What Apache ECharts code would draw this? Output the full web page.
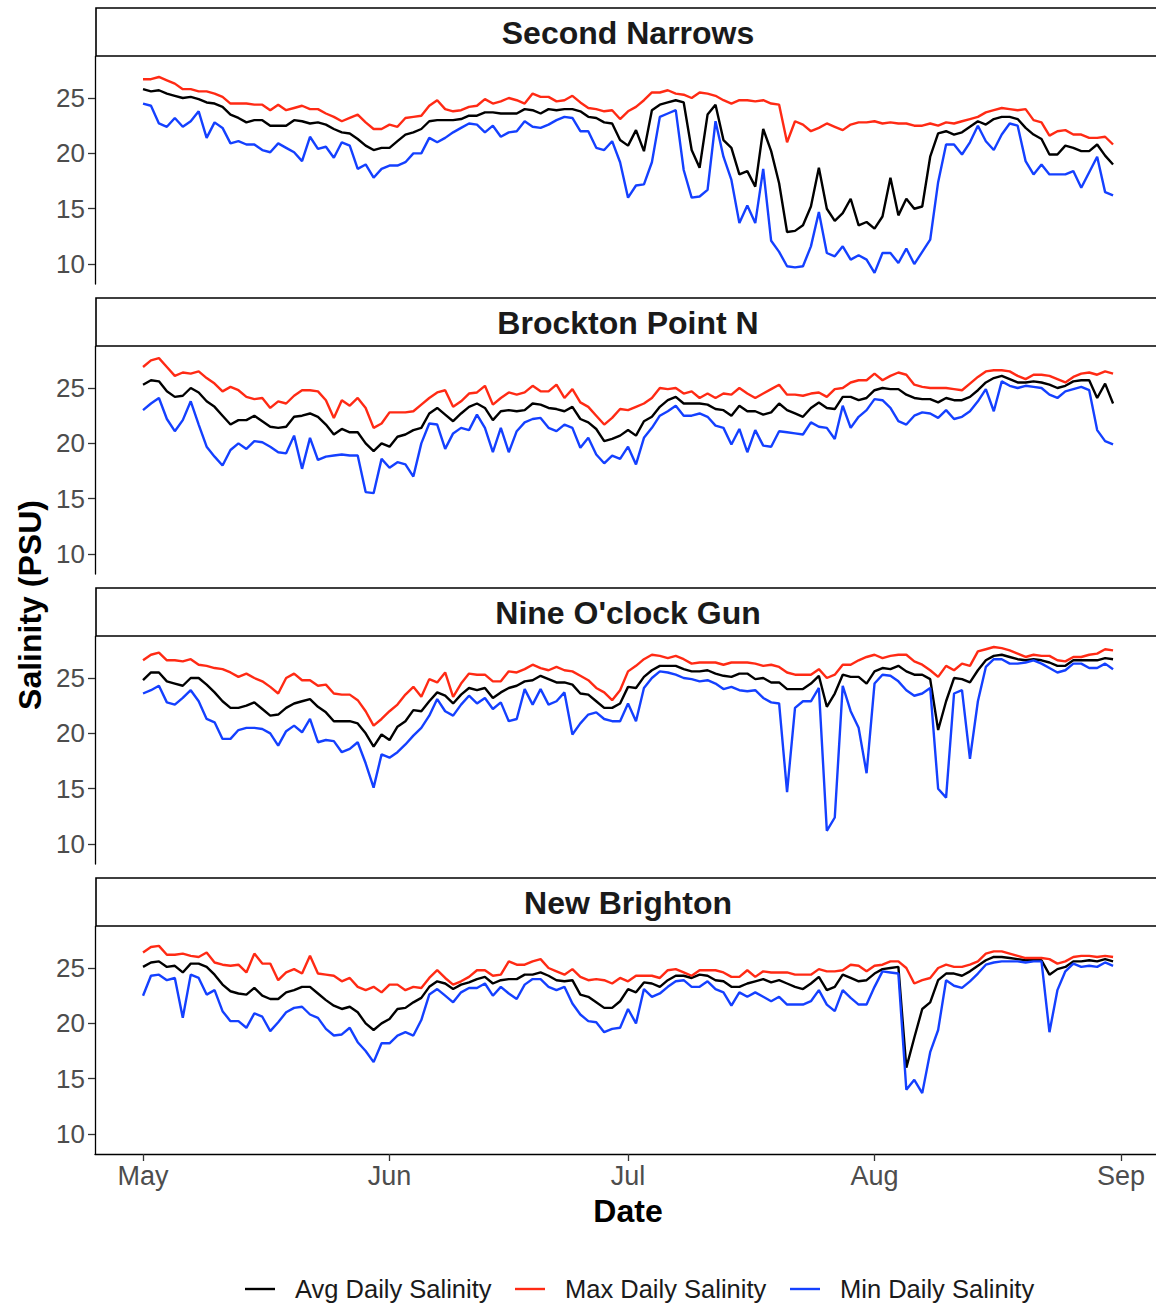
<!DOCTYPE html>
<html><head><meta charset="utf-8">
<script src="https://cdn.jsdelivr.net/npm/echarts@6/dist/echarts.min.js"></script>
<style>html,body{margin:0;padding:0;background:#fff}#c{width:1156px;height:1304px}</style>
</head><body><div id="c"></div>
<script>
// Categories / labels
const sites = ['Second Narrows', 'Brockton Point N', "Nine O'clock Gun", 'New Brighton'];
const seriesNames = ['Avg Daily Salinity', 'Max Daily Salinity', 'Min Daily Salinity'];
const startDate = '2023-05-01';            // first daily value (May 1), one value per day to Aug 31
const monthStarts = ['2023-05-01', '2023-06-01', '2023-07-01', '2023-08-01', '2023-09-01'];
const monthLabels = ['May', 'Jun', 'Jul', 'Aug', 'Sep'];
const yTicks = [10, 15, 20, 25];

// Second Narrows
const snAvg = [25.8,25.6,25.7,25.4,25.2,25.0,25.1,24.9,24.6,24.5,24.2,23.5,23.2,22.8,23.0,23.0,22.5,22.5,22.5,23.0,22.9,22.7,22.8,22.6,22.2,21.9,21.8,21.3,20.7,20.3,20.5,20.5,21.1,21.7,21.9,22.2,22.9,23.0,23.0,23.0,23.1,23.4,
23.4,23.7,23.7,23.6,23.6,23.6,24.0,23.9,23.6,24.0,23.9,24.0,24.0,23.8,23.3,23.2,22.8,22.7,21.2,20.7,22.1,20.2,23.9,24.4,24.6,24.8,24.6,20.3,18.7,23.5,24.4,21.2,20.5,18.1,18.4,17.0,22.2,20.2,17.3,12.9,
13.0,13.5,15.2,18.7,15.0,13.9,14.6,15.9,13.5,13.8,13.2,14.3,17.8,14.4,15.9,15.0,15.2,19.7,21.8,22.0,21.7,21.9,22.4,22.9,22.6,23.1,23.3,23.3,23.1,22.3,21.7,21.3,19.9,19.9,20.7,20.5,20.2,20.2,20.8,19.8,19.0];
const snMax = [26.7,26.7,26.9,26.6,26.3,25.8,25.8,25.6,25.6,25.4,25.1,24.5,24.5,24.5,24.4,24.4,23.9,24.4,23.9,24.1,24.3,24.0,24.0,23.6,23.3,22.9,23.2,23.5,22.8,22.2,22.2,22.6,22.4,23.2,23.3,23.4,24.3,24.8,24.0,23.8,23.9,24.2,
24.3,24.9,24.5,24.7,25.0,24.8,24.5,25.4,25.1,25.1,24.7,24.8,25.2,24.6,24.1,24.0,23.8,23.9,23.1,23.8,24.2,24.8,25.5,25.5,25.7,25.4,25.3,25.0,25.5,25.4,25.2,24.8,24.5,24.8,24.8,24.7,24.8,24.5,24.4,21.0,
22.9,22.6,22.0,22.3,22.7,22.4,22.1,22.6,22.8,22.8,22.9,22.7,22.8,22.7,22.7,22.5,22.5,22.7,22.5,22.8,22.7,22.9,23.1,23.3,23.7,23.9,24.1,24.0,23.9,24.0,23.0,22.8,21.6,22.0,22.1,21.7,21.7,21.4,21.4,21.5,20.8];
const snMin = [24.5,24.3,22.7,22.4,23.2,22.4,22.9,23.8,21.4,22.8,22.3,20.9,21.1,20.8,20.8,20.3,20.1,20.9,20.5,20.1,19.3,21.5,20.4,20.6,19.6,21.0,20.7,18.6,19.0,17.8,18.6,18.9,18.9,19.2,20.0,20.0,21.4,21.0,21.4,21.9,22.3,22.7,
22.6,21.9,22.5,21.5,21.9,22.0,22.9,22.4,22.3,22.6,23.0,23.3,23.2,22.0,22.0,20.5,20.3,21.1,19.2,16.0,17.1,17.2,19.2,23.3,23.6,23.9,18.5,16.0,16.1,16.7,22.9,19.7,17.6,13.7,15.3,13.7,18.6,12.1,11.1,9.8,
9.7,9.8,11.6,14.7,11.0,10.7,11.6,10.4,10.8,10.4,9.2,11.0,11.0,10.1,11.4,10.0,11.1,12.2,17.4,20.8,20.8,19.9,21.0,22.5,21.1,20.3,21.7,22.7,22.5,19.3,18.1,19.0,18.1,18.1,18.1,18.4,16.9,18.3,19.7,16.5,16.2];

// Brockton Point N
const bpAvg = [25.3,25.7,25.6,24.7,24.2,24.3,25.0,24.6,23.8,23.3,22.5,21.7,22.1,22.1,22.5,22.0,21.5,21.4,21.5,22.4,22.5,22.7,22.4,21.7,20.8,21.3,21.0,21.0,20.0,19.3,20.0,19.7,20.6,20.8,21.2,21.4,22.7,23.2,22.6,22.0,22.7,23.3,
23.6,23.2,22.1,22.9,23.0,22.9,23.0,23.6,23.5,23.2,23.1,22.9,23.3,22.2,21.9,21.3,20.2,20.4,20.7,21.2,20.7,22.0,22.4,23.3,23.9,24.2,23.6,23.6,23.6,23.5,23.1,23.0,22.5,23.4,22.9,22.9,22.6,22.8,23.6,23.0,
22.7,22.4,23.2,23.7,23.2,23.1,24.2,24.2,23.9,24.1,24.8,25.0,24.9,24.9,24.4,24.1,24.0,24.0,23.7,24.1,23.9,23.9,24.2,24.8,25.5,25.9,26.1,25.8,25.5,25.5,25.6,25.5,25.3,25.0,25.2,25.6,25.7,25.7,24.1,25.4,23.6];
const bpMax = [26.9,27.5,27.7,26.9,26.1,26.4,26.3,26.5,25.9,25.4,24.7,25.1,24.8,24.2,24.0,24.1,23.2,23.8,23.6,24.3,24.8,24.8,24.7,23.9,22.3,23.9,23.4,24.1,23.2,21.4,21.8,22.8,22.8,22.8,22.9,23.5,24.1,24.6,24.8,23.3,23.8,24.5,
24.6,25.2,23.5,24.1,24.6,24.4,24.6,25.2,24.7,24.7,25.3,24.1,24.9,23.7,23.3,22.5,21.7,22.3,23.1,23.0,23.3,23.6,24.1,25.0,24.9,25.0,24.5,24.7,24.1,24.5,24.1,24.5,24.4,25.0,24.5,24.1,24.5,24.9,25.3,24.4,
24.4,24.3,24.5,24.6,24.2,24.9,25.0,25.5,25.7,25.7,26.3,25.7,26.1,26.4,26.2,25.3,25.1,25.0,25.0,25.0,24.9,24.8,25.4,26.0,26.5,26.6,26.6,26.5,26.1,25.8,26.2,26.2,26.1,25.8,25.5,26.0,26.3,26.4,26.2,26.5,26.3];
const bpMin = [23.0,23.6,24.1,22.2,21.1,22.1,23.8,21.7,19.7,18.8,18.0,19.4,20.0,19.5,20.2,20.1,19.7,19.2,19.1,20.7,17.7,20.5,18.5,18.8,18.9,19.0,18.9,18.9,15.6,15.5,18.6,17.8,18.3,18.1,17.0,20.0,21.8,21.7,19.5,20.9,21.4,21.2,
22.6,21.4,19.2,21.4,19.2,21.1,21.9,22.2,22.3,21.4,21.1,21.7,21.4,19.6,20.5,19.0,18.2,18.9,18.6,19.7,18.1,20.5,21.4,22.5,22.9,23.4,22.5,22.5,22.7,22.4,21.6,21.4,19.9,21.3,19.2,21.2,19.8,19.7,21.1,21.0,
20.9,20.8,21.9,21.5,21.4,20.4,23.4,21.4,22.4,23.0,24.0,23.9,23.2,22.0,21.7,22.5,22.8,22.7,22.3,23.0,22.2,22.4,22.9,23.8,24.9,22.9,25.6,25.2,25.0,25.2,25.1,25.0,24.4,24.1,24.7,24.9,25.1,24.8,21.2,20.2,19.9];

// Nine O'clock Gun
const ngAvg = [24.8,25.5,25.5,24.7,24.5,24.3,25.0,25.0,24.4,23.7,22.9,22.3,22.3,22.5,22.8,22.2,21.6,21.7,22.3,22.7,22.9,23.1,22.4,21.9,21.1,21.1,21.1,20.9,20.0,18.8,19.9,19.4,20.6,21.1,22.1,22.0,22.9,23.7,23.4,22.7,23.5,24.1,
23.9,24.1,23.2,23.7,24.1,24.3,24.7,24.8,25.2,24.9,24.6,24.6,24.4,23.6,23.5,22.9,22.3,22.3,22.7,24.2,24.1,25.1,25.7,26.1,26.1,26.1,25.8,25.6,25.6,25.7,25.4,25.2,25.1,25.4,25.4,24.9,25.0,24.6,24.6,24.0,
24.0,24.0,24.5,25.2,22.4,23.6,25.3,25.1,25.1,24.5,25.6,25.9,25.8,26.1,25.6,25.3,25.3,24.9,20.3,22.9,25.0,24.9,24.6,25.7,26.6,27.0,27.1,26.9,26.7,26.6,26.7,26.6,26.4,26.1,26.1,26.6,26.6,26.6,26.6,26.8,26.7];
const ngMax = [26.6,27.1,27.3,26.6,26.6,26.5,26.7,26.2,26.1,25.9,25.8,25.5,25.1,25.4,25.0,24.7,24.2,23.6,25.0,25.4,24.8,24.8,24.3,24.4,23.6,23.5,23.5,23.0,22.0,20.7,21.3,22.0,22.6,23.5,24.2,23.3,24.9,24.6,25.5,23.3,24.5,25.4,
25.3,25.3,24.7,24.7,25.6,25.5,25.8,26.2,25.9,25.7,26.0,25.7,25.6,25.2,24.8,24.1,23.7,23.0,23.9,25.6,26.1,26.7,27.1,27.0,26.8,27.0,26.7,26.3,26.4,26.4,26.4,26.2,26.4,26.4,26.4,26.3,26.1,26.2,26.0,25.5,
25.3,25.3,25.3,25.8,25.0,25.3,26.2,26.2,26.6,26.9,27.1,26.8,27.0,27.1,27.1,26.5,26.2,25.7,25.1,26.1,25.7,26.3,26.1,27.4,27.6,27.8,27.7,27.5,27.2,26.9,27.1,27.0,27.0,26.6,26.5,26.9,26.9,27.1,27.2,27.6,27.5];
const ngMin = [23.6,23.9,24.3,22.8,22.6,23.2,23.9,22.9,21.3,21.0,19.5,19.5,20.3,20.5,20.5,20.4,20.0,18.9,20.2,20.7,20.1,21.3,19.2,19.4,19.3,18.3,18.6,19.2,17.3,15.1,18.1,17.8,18.3,19.0,19.8,20.5,21.6,23.1,22.0,21.6,22.6,23.4,
22.7,23.2,22.2,22.8,21.1,21.3,24.0,22.6,24.0,22.6,22.9,23.7,19.9,20.9,21.7,21.9,21.3,21.1,21.1,22.7,21.1,24.1,25.0,25.6,25.5,25.3,25.0,24.9,24.7,24.8,24.5,24.0,24.2,23.9,23.8,23.9,23.2,22.8,22.7,14.7,
22.3,22.9,22.9,24.1,11.2,12.4,24.3,22.0,20.5,16.4,24.5,25.3,25.2,24.7,23.9,23.4,23.6,24.1,15.0,14.2,23.6,23.9,17.7,22.9,26.0,26.7,26.7,26.3,26.3,26.4,26.6,26.3,25.9,25.5,25.7,26.3,26.3,25.9,25.9,26.3,25.8];

// New Brighton
const nbAvg = [25.1,25.5,25.6,25.1,25.2,24.6,25.4,25.4,25.1,24.4,23.5,22.9,22.7,22.6,23.2,22.5,22.2,22.2,22.8,23.0,23.3,23.3,22.7,22.1,21.6,21.3,21.5,21.0,20.0,19.4,20.0,20.4,21.3,21.4,21.9,22.3,23.3,23.8,23.6,23.1,23.5,23.7,
24.0,24.2,23.6,23.9,24.0,24.0,24.4,24.4,24.6,24.3,23.9,23.8,23.9,22.6,22.4,21.9,21.4,21.4,22.0,23.1,22.8,23.7,23.6,23.3,23.9,24.3,24.3,24.1,24.4,24.3,23.9,23.8,23.3,23.3,23.6,23.8,24.0,23.7,23.9,23.6,
23.3,23.1,23.6,24.2,23.0,23.3,24.4,24.1,23.8,23.9,24.5,24.9,25.0,25.1,16.0,18.7,21.3,21.9,23.9,24.5,24.5,24.3,24.7,25.2,25.7,26.0,26.0,25.9,25.8,25.7,25.7,25.7,24.4,24.9,25.1,25.6,25.6,25.7,25.6,25.8,25.6];
const nbMax = [26.4,26.9,27.0,26.2,26.2,26.3,26.1,26.0,26.4,25.5,25.3,25.2,25.3,24.6,26.3,25.4,25.4,23.9,24.6,24.9,24.5,26.1,24.5,24.4,24.3,23.8,24.1,23.3,23.0,23.3,22.8,23.5,23.5,23.0,23.3,23.2,24.1,24.8,24.1,23.5,23.8,24.2,
24.8,24.8,24.3,24.4,25.6,25.3,25.3,25.6,25.8,25.0,24.7,24.4,24.9,24.2,23.9,24.0,23.9,23.6,24.1,23.8,24.3,24.3,24.3,24.1,24.8,24.9,24.6,24.3,24.8,24.8,24.8,24.6,24.2,24.2,24.8,24.2,24.7,24.6,24.6,24.6,
24.4,24.4,24.4,24.9,24.7,24.7,24.8,25.3,25.2,24.7,25.2,25.3,25.6,25.6,25.0,23.6,23.9,24.1,25.0,25.3,25.1,25.1,25.3,25.6,26.3,26.5,26.5,26.3,26.1,25.9,25.9,25.9,25.8,25.4,25.6,26.0,26.1,26.1,26.0,26.1,26.0];
const nbMin = [22.5,24.3,24.4,23.9,24.1,20.5,24.4,24.1,22.6,23.0,21.1,20.2,20.2,19.6,20.9,20.6,19.3,20.1,21.0,21.4,21.5,20.8,20.5,19.5,18.9,19.0,19.6,18.3,17.5,16.5,18.2,18.2,18.9,19.2,18.9,20.3,22.6,23.1,22.5,21.9,22.8,23.2,
23.2,23.6,22.5,23.3,22.7,22.2,23.5,24.0,24.0,23.3,23.0,23.3,21.8,20.8,20.2,20.1,19.2,19.5,19.6,21.3,20.0,23.1,22.4,22.7,23.3,23.8,23.9,23.3,23.3,23.8,23.1,22.8,21.6,22.8,22.4,22.8,22.4,22.0,22.4,21.7,
21.7,21.7,22.0,23.0,21.7,21.1,23.0,22.3,21.7,21.7,23.3,24.7,24.6,24.5,14.0,14.9,13.7,17.4,19.4,23.9,23.4,23.2,23.8,24.5,25.3,25.5,25.6,25.6,25.6,25.5,25.6,25.6,19.2,23.0,24.7,25.4,25.1,25.2,25.1,25.5,25.2];

const siteData = [[snAvg, snMax, snMin], [bpAvg, bpMax, bpMin], [ngAvg, ngMax, ngMin], [nbAvg, nbMax, nbMin]];
const colors = ['#000000', '#FF2A14', '#1440FF'];

// helpers
const DAY = 86400000;
const t0 = Date.parse(startDate + 'T00:00:00Z');
const dayOf = s => Math.round((Date.parse(s + 'T00:00:00Z') - t0) / DAY);
const monthTickDays = monthStarts.map(dayOf);
const labelForDay = {};
monthTickDays.forEach((d, i) => { labelForDay[d] = monthLabels[i]; });

const FONT = '"Liberation Sans", Arial, Helvetica, sans-serif';
const panelTop0 = 56.5, panelStep = 290, panelH = 227.5;
// plot area runs from x=95 to the right edge of the page (panel is cut off there)
const gridLeft = 95, gridW = 1061;
const xMin = -6.04, xMax = 127.4;

const grids = [], xAxes = [], yAxes = [], series = [], graphics = [];
sites.forEach((site, i) => {
  const top = panelTop0 + i * panelStep;
  grids.push({ left: gridLeft, top: top, width: gridW, height: panelH, containLabel: false });
  const isBottom = i === sites.length - 1;
  xAxes.push({
    type: 'value', gridIndex: i, min: xMin, max: xMax,
    show: isBottom,
    axisLine: { show: isBottom, onZero: false, lineStyle: { color: '#000', width: 1.3 } },
    axisTick: { show: isBottom, customValues: monthTickDays, length: 7, lineStyle: { color: '#333', width: 1.3 } },
    axisLabel: { show: isBottom, customValues: monthTickDays, formatter: v => labelForDay[Math.round(v)] || '',
      fontSize: 27, color: '#4d4d4d', margin: 8, fontFamily: FONT },
    splitLine: { show: false }
  });
  yAxes.push({
    type: 'value', gridIndex: i, min: 8.2, max: 28.75,
    axisLine: { show: true, onZero: false, lineStyle: { color: '#000', width: 1.3 } },
    axisTick: { show: true, customValues: yTicks, length: 7, lineStyle: { color: '#333', width: 1.3 } },
    axisLabel: { customValues: yTicks, fontSize: 26, color: '#4d4d4d', margin: 10, fontFamily: FONT },
    splitLine: { show: false }
  });
  siteData[i].forEach((arr, k) => {
    series.push({
      name: seriesNames[k], type: 'line', xAxisIndex: i, yAxisIndex: i,
      data: arr.map((v, j) => [j, v]),
      showSymbol: false, symbol: 'none',
      lineStyle: { color: colors[k], width: 2.4 }, itemStyle: { color: colors[k] },
      z: 2 + k, silent: true
    });
  });
  // facet strip
  graphics.push({
    type: 'rect', shape: { x: 96, y: top - 48.5, width: 1080, height: 48 },
    style: { fill: '#fff', stroke: '#000', lineWidth: 1.6 }, z: 10
  });
  graphics.push({
    type: 'text', x: 628, y: top - 23.5,
    style: { text: site, font: 'bold 32px ' + FONT, fill: '#1a1a1a', textAlign: 'center', textVerticalAlign: 'middle' }, z: 11
  });
});

graphics.push({
  type: 'text', x: 628, y: 1211,
  style: { text: 'Date', font: 'bold 32px ' + FONT, fill: '#000', textAlign: 'center', textVerticalAlign: 'middle' }
});
graphics.push({
  type: 'text', x: 30, y: 605, rotation: Math.PI / 2,
  style: { text: 'Salinity (PSU)', font: 'bold 32px ' + FONT, fill: '#000', textAlign: 'center', textVerticalAlign: 'middle' }
});

const legendLefts = [240, 510, 785];
const legends = seriesNames.map((n, k) => ({
  data: [n], left: legendLefts[k], top: 1271, icon: 'rect', itemWidth: 30, itemHeight: 2.4,
  selectedMode: false,
  textStyle: { fontSize: 25.5, color: '#1a1a1a', fontFamily: FONT, padding: [0, 0, 0, 15] }
}));

const chart = echarts.init(document.getElementById('c'), null, { renderer: 'svg' });
chart.setOption({
  animation: false,
  backgroundColor: '#fff',
  grid: grids, xAxis: xAxes, yAxis: yAxes, series: series,
  legend: legends, graphic: graphics
});
</script></body></html>
